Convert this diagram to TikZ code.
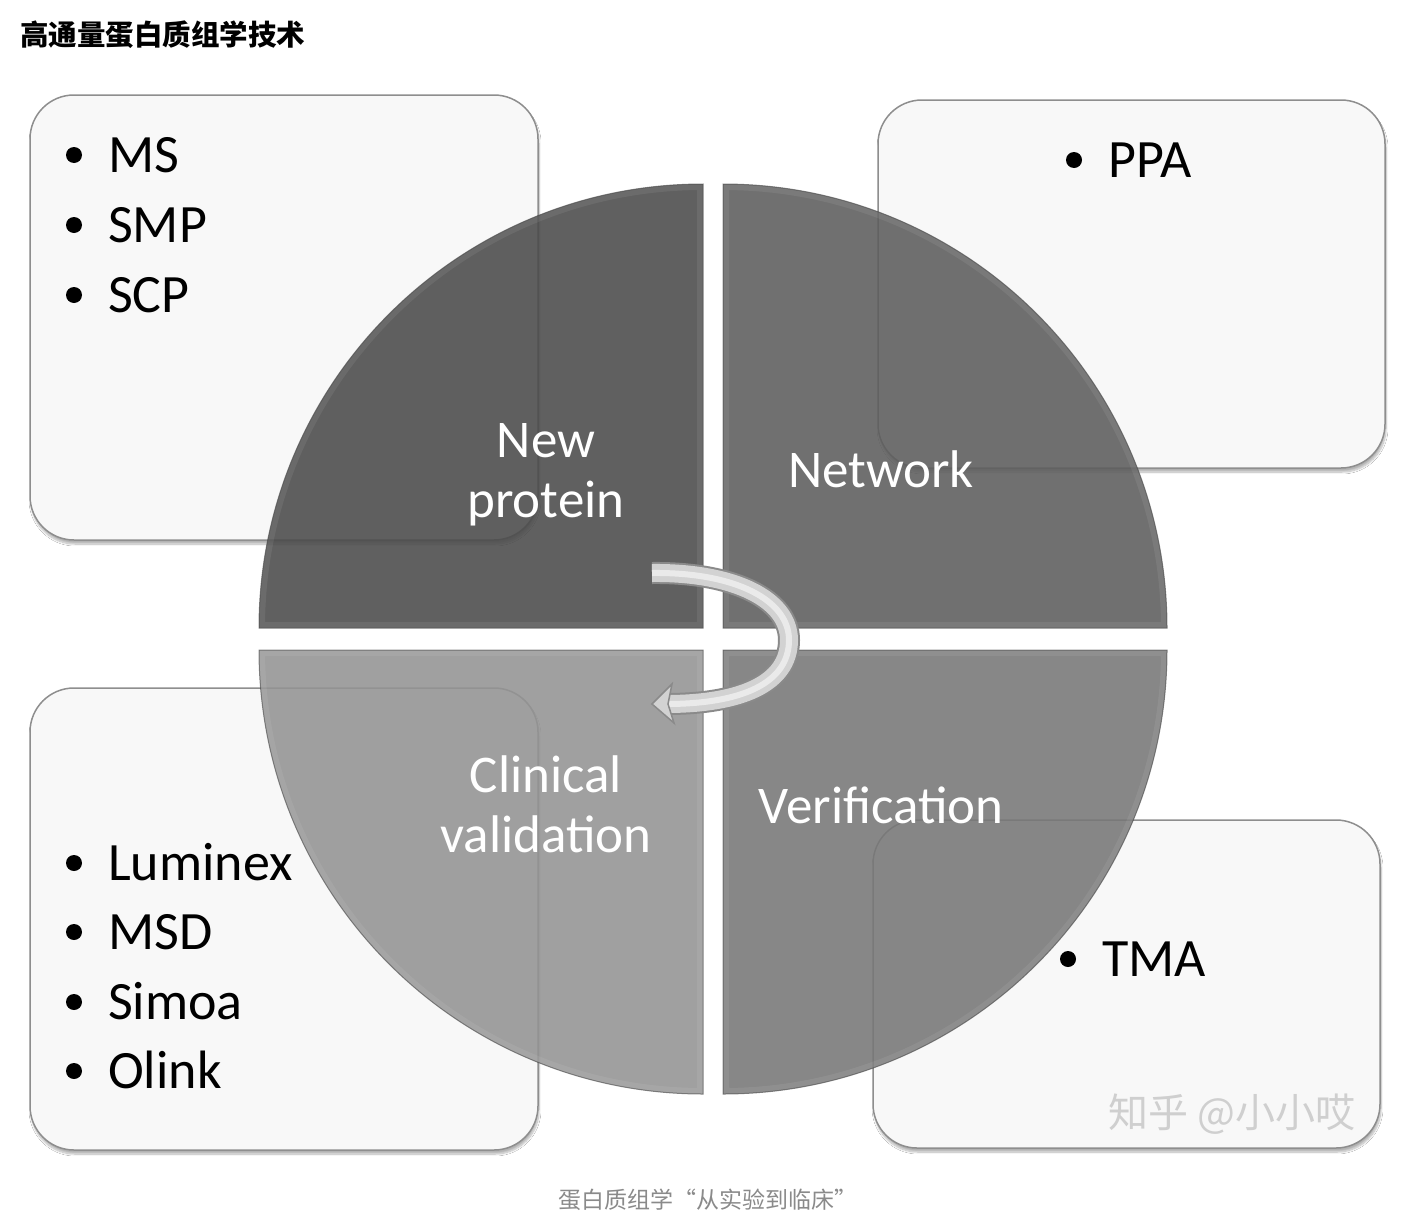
\documentclass[tikz,border=0pt]{standalone}
\usepackage{fontspec}
\setmainfont{Carlito}
\newfontfamily\cjk{Noto Sans CJK SC}
\usetikzlibrary{shadows.blur}
\definecolor{boxfill}{HTML}{F8F8F8}
\definecolor{boxline}{HTML}{8E8E8E}
\definecolor{qTL}{HTML}{4A4A4A}
\definecolor{qTR}{HTML}{5D5D5D}
\definecolor{qBL}{HTML}{939393}
\definecolor{qBR}{HTML}{777777}
\definecolor{quadline}{HTML}{3C3C3C}
\definecolor{arrowline}{HTML}{8A8A8A}
\definecolor{arrowfill}{HTML}{D2D2D2}
\definecolor{captiongray}{HTML}{8A8A8A}
\definecolor{wmgray}{HTML}{CFCFCF}
\tikzset{
  infobox/.style={draw=boxline, line width=1.5pt, fill=boxfill, rounded corners=44pt, inner sep=0pt,
    blur shadow={shadow xshift=1pt, shadow yshift=-4pt, shadow opacity=30, shadow blur steps=10}},
  item/.style={anchor=base west, inner sep=0pt, text=black, font=\fontsize{54}{60}\selectfont},
  bul/.style={circle, fill=black, inner sep=0pt, minimum size=16pt},
  qlabel/.style={anchor=base, inner sep=0pt, text=white, font=\fontsize{53}{60}\selectfont},
  quad/.style={fill opacity=0.88, draw=quadline, draw opacity=0.6, line width=1pt},
  bevel/.style={white, opacity=0.07, line width=12pt},
}
\begin{document}
\begin{tikzpicture}[x=1pt,y=-1pt]
\useasboundingbox (0,0) rectangle (1410,1218);
\fill[white] (0,0) rectangle (1410,1218);

% title and caption
\node[anchor=base west, inner sep=0pt, font=\cjk\bfseries\fontsize{28.5}{32}\selectfont] (title) at (20,45) {高通量蛋白质组学技术};
\node[anchor=base, inner sep=0pt, text=captiongray, font=\cjk\fontsize{23}{26}\selectfont] (caption) at (708,1208) {蛋白质组学“从实验到临床”};

% boxes
\node[infobox, minimum width=508pt, minimum height=445pt] (boxTL) at (284,317.5) {};
\node[infobox, minimum width=507pt, minimum height=368pt] (boxTR) at (1131.5,284) {};
\node[infobox, minimum width=508pt, minimum height=462pt] (boxBL) at (284,919) {};
\node[infobox, minimum width=507pt, minimum height=328pt] (boxBR) at (1126.5,984) {};

% pie quadrants
\path[quad, fill=qTL] (703,628) -- (259,628) arc[start angle=180, end angle=270, radius=444] -- cycle;
\path[quad, fill=qTR] (723,628) -- (723,184) arc[start angle=270, end angle=360, radius=444] -- cycle;
\path[quad, fill=qBL] (703,650) -- (703,1094) arc[start angle=90, end angle=180, radius=444] -- cycle;
\path[quad, fill=qBR] (723,650) -- (1167,650) arc[start angle=0, end angle=90, radius=444] -- cycle;
\begin{scope}
\clip (703,628) -- (259,628) arc[start angle=180, end angle=270, radius=444] -- cycle;
\draw[bevel] (703,628) -- (259,628) arc[start angle=180, end angle=270, radius=444] -- cycle;
\end{scope}
\begin{scope}
\clip (723,628) -- (723,184) arc[start angle=270, end angle=360, radius=444] -- cycle;
\draw[bevel] (723,628) -- (723,184) arc[start angle=270, end angle=360, radius=444] -- cycle;
\end{scope}
\begin{scope}
\clip (703,650) -- (703,1094) arc[start angle=90, end angle=180, radius=444] -- cycle;
\draw[bevel] (703,650) -- (703,1094) arc[start angle=90, end angle=180, radius=444] -- cycle;
\end{scope}
\begin{scope}
\clip (723,650) -- (1167,650) arc[start angle=0, end angle=90, radius=444] -- cycle;
\draw[bevel] (723,650) -- (1167,650) arc[start angle=0, end angle=90, radius=444] -- cycle;
\end{scope}

% quadrant labels
\node[qlabel] (new) at (546,457) {New};
\node[qlabel] (protein) at (546,517) {protein};
\node[qlabel] (network) at (881,487) {Network};
\node[qlabel] (clinical) at (546,792) {Clinical};
\node[qlabel] (validation) at (546,852) {validation};
\node[qlabel] (verification) at (881,823) {Verification};

% list items
\node[bul] (bMS) at (74,155) {};
\node[item] (ms) at (108,172) {MS};
\node[bul] (bSMP) at (74,225) {};
\node[item] (smp) at (108,242) {SMP};
\node[bul] (bSCP) at (74,295) {};
\node[item] (scp) at (108,312) {SCP};

\node[bul] (bPPA) at (1074,160) {};
\node[item] (ppa) at (1108,177) {PPA};

\node[bul] (bLum) at (74,863) {};
\node[item] (lum) at (108,880) {Luminex};
\node[bul] (bMSD) at (74,932) {};
\node[item] (msd) at (108,949) {MSD};
\node[bul] (bSim) at (74,1002) {};
\node[item] (sim) at (108,1019) {Simoa};
\node[bul] (bOli) at (74,1071) {};
\node[item] (oli) at (108,1088) {Olink};

\node[bul] (bTMA) at (1068,959) {};
\node[item] (tma) at (1102,976) {TMA};

% watermark
\node[anchor=base west, inner sep=0pt, text=wmgray, font=\cjk\fontsize{40}{44}\selectfont] (wm) at (1108,1127) {知乎 @小小哎};

% curved arrow
\coordinate (a0) at (652,573);
\coordinate (a1) at (789,640);
\coordinate (a2) at (666,704);
\draw[line width=22pt, color=arrowline] (a0) .. controls (735,572) and (789,600) .. (a1) .. controls (789,684) and (740,704) .. (a2);
\draw[line width=18pt, color=arrowfill] (a0) .. controls (735,572) and (789,600) .. (a1) .. controls (789,684) and (740,704) .. (a2);
\draw[line width=6pt, color=white, opacity=0.55] (a0) .. controls (735,572) and (789,600) .. (a1) .. controls (789,684) and (740,704) .. (a2);
\coordinate (tip) at (652,704);
\filldraw[fill=arrowfill, draw=arrowline, line width=1.5pt] (tip) -- (672,684) -- (668,704) -- (674,723) -- cycle;
\end{tikzpicture}
\end{document}
